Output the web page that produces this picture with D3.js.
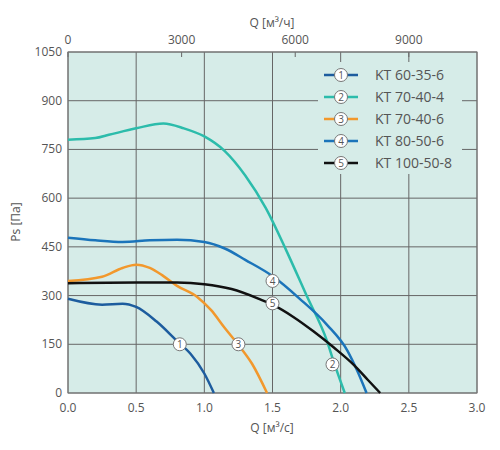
<!DOCTYPE html>
<html><head><meta charset="utf-8">
<script src="https://cdn.jsdelivr.net/npm/d3@7"></script>
<style>body{margin:0;background:#fff}text{font-family:"Open Sans",sans-serif;fill:#555}</style>
</head><body><svg id="c" width="500" height="450"></svg>
<script>
// fan curves, Q in m3/s, Ps in Pa
names=["KT 60-35-6","KT 70-40-4","KT 70-40-6","KT 80-50-6","KT 100-50-8"];
colors=["#1d5c9e","#2cbcab","#f2982c","#1b74ba","#111111"];
curve1=[[0,290],[0.25,272],[0.4,275],[0.5,265],[0.65,220],[0.8,160],[0.9,120],[1.0,60],[1.07,0]];
curve2=[[0,780],[0.2,785],[0.3,795],[0.5,815],[0.7,830],[0.85,815],[1.0,790],[1.15,745],[1.3,670],[1.45,570],[1.6,440],[1.75,300],[1.9,160],[1.95,95],[2.03,0]];
curve3=[[0,345],[0.25,358],[0.4,385],[0.5,395],[0.6,385],[0.7,360],[0.8,330],[0.95,295],[1.05,255],[1.15,200],[1.25,148],[1.35,90],[1.46,0]];
curve4=[[0,478],[0.2,470],[0.4,465],[0.6,470],[0.8,472],[1.0,465],[1.15,445],[1.3,410],[1.5,360],[1.7,290],[1.9,210],[2.05,130],[2.12,70],[2.19,0]];
curve5=[[0,338],[0.5,340],[0.8,340],[1.0,335],[1.2,320],[1.4,290],[1.5,272],[1.65,235],[1.8,190],[1.95,140],[2.1,85],[2.2,40],[2.29,0]];
curves=[curve1,curve2,curve3,curve4,curve5];
labelPts=[[0.82,150],[1.94,88],[1.25,150],[1.5,345],[1.5,276]];
xTicks=[0,0.5,1,1.5,2,2.5,3];
yTicks=[0,150,300,450,600,750,900,1050];
topTicks=[0,3000,6000,9000];

var svg=d3.select("#c");
var x=d3.scaleLinear().domain([0,3]).range([68,477]);
var y=d3.scaleLinear().domain([0,1050]).range([393,52]);
var xt=d3.scaleLinear().domain([0,3*3600]).range([68,477]);

svg.append("rect").attr("x",68).attr("y",52).attr("width",409).attr("height",341).attr("fill","#d6ece8");
var g=svg.append("g");
xTicks.forEach(function(t){g.append("line").attr("x1",x(t)).attr("x2",x(t)).attr("y1",52).attr("y2",393).attr("stroke","#666").attr("stroke-width",1)});
yTicks.forEach(function(t){g.append("line").attr("x1",68).attr("x2",477).attr("y1",y(t)).attr("y2",y(t)).attr("stroke","#666").attr("stroke-width",1)});
topTicks.forEach(function(t){g.append("line").attr("x1",xt(t)).attr("x2",xt(t)).attr("y1",52).attr("y2",57).attr("stroke","#666")});
svg.append("rect").attr("x",68).attr("y",52).attr("width",409).attr("height",341).attr("fill","none").attr("stroke","#777");

xTicks.forEach(function(t){svg.append("text").attr("x",x(t)).attr("y",412).attr("text-anchor","middle").attr("font-size",12).text(d3.format(".1f")(t))});
yTicks.forEach(function(t){svg.append("text").attr("x",62).attr("y",y(t)+4).attr("text-anchor","end").attr("font-size",12).text(t)});
topTicks.forEach(function(t){svg.append("text").attr("x",xt(t)).attr("y",44).attr("text-anchor","middle").attr("font-size",12).text(t)});
svg.append("text").attr("x",272).attr("y",432).attr("text-anchor","middle").attr("font-size",12).text("Q [м³/с]");
svg.append("text").attr("x",272).attr("y",27).attr("text-anchor","middle").attr("font-size",12).text("Q [м³/ч]");
svg.append("text").attr("transform","translate(20,222) rotate(-90)").attr("text-anchor","middle").attr("font-size",12).text("Ps [Па]");

var line=d3.line().x(d=>x(d[0])).y(d=>y(d[1])).curve(d3.curveMonotoneX);
curves.forEach(function(c,i){svg.append("path").attr("d",line(c)).attr("fill","none").attr("stroke",colors[i]).attr("stroke-width",2.5)});

function marker(cx,cy,n){
  svg.append("circle").attr("cx",cx).attr("cy",cy).attr("r",6.5).attr("fill","#fff").attr("stroke","#777").attr("stroke-width",1);
  svg.append("text").attr("x",cx).attr("y",cy+4).attr("text-anchor","middle").attr("font-size",10).text(n);
}
labelPts.forEach(function(p,i){marker(x(p[0]),y(p[1]),i+1)});

// legend
svg.append("rect").attr("x",318).attr("y",62).attr("width",144).attr("height",112).attr("fill","#d6ece8");
names.forEach(function(nm,i){
  var ly=75+i*22;
  svg.append("line").attr("x1",324).attr("x2",358).attr("y1",ly).attr("y2",ly).attr("stroke",colors[i]).attr("stroke-width",2.5);
  marker(341,ly,i+1);
  svg.append("text").attr("x",375).attr("y",ly+5).attr("font-size",14).text(nm);
});
</script></body></html>
